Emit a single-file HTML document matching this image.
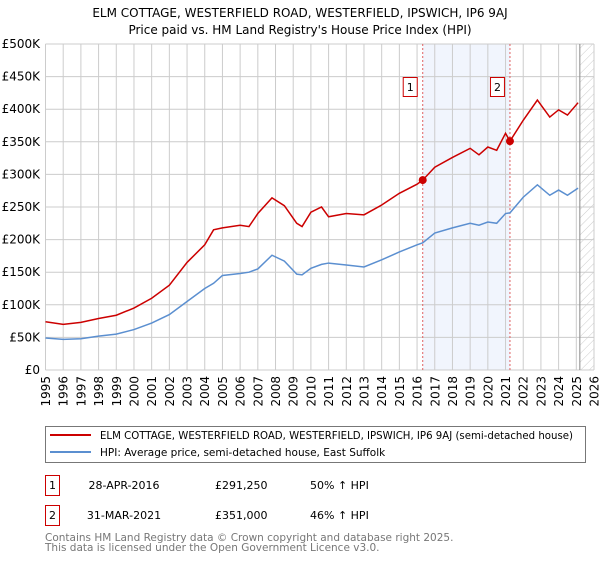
<!DOCTYPE html>
<html><head><meta charset="utf-8"><style>
body{margin:0;background:#fff;font-family:"DejaVu Sans","Liberation Sans",sans-serif;}
svg text{font-family:"DejaVu Sans","Liberation Sans",sans-serif;}
</style></head><body>
<svg id="chart" width="600" height="560" xmlns="http://www.w3.org/2000/svg">
<defs><pattern id="hatch" width="6" height="6" patternUnits="userSpaceOnUse" patternTransform="rotate(45)"><line x1="0" y1="0" x2="0" y2="6" stroke="#ccc" stroke-width="1"/></pattern></defs>
<text x="300" y="17" text-anchor="middle" font-size="12">ELM COTTAGE, WESTERFIELD ROAD, WESTERFIELD, IPSWICH, IP6 9AJ</text>
<text x="300" y="34" text-anchor="middle" font-size="12">Price paid vs. HM Land Registry's House Price Index (HPI)</text>
<g id="grid"></g><g id="marks"></g><g id="axes"></g>
<rect x="45.5" y="426.5" width="540" height="36" fill="#fff" stroke="#777"/>
<line x1="50" y1="435" x2="91" y2="435" stroke="#cc0000" stroke-width="2"/>
<text x="100" y="439" font-size="10.5" textLength="473" lengthAdjust="spacingAndGlyphs">ELM COTTAGE, WESTERFIELD ROAD, WESTERFIELD, IPSWICH, IP6 9AJ (semi-detached house)</text>
<line x1="50" y1="452" x2="91" y2="452" stroke="#5b8fd0" stroke-width="2"/>
<text x="100" y="456" font-size="10.5">HPI: Average price, semi-detached house, East Suffolk</text>
<g font-size="11">
<rect x="45.5" y="475.5" width="14" height="20" fill="#fff" stroke="#cc0000"/>
<text x="52.5" y="489" text-anchor="middle">1</text>
<text x="124" y="489" text-anchor="middle">28-APR-2016</text>
<text x="215" y="489">£291,250</text>
<text x="310" y="489">50% ↑ HPI</text></g>
<g font-size="11">
<rect x="45.5" y="505.5" width="14" height="20" fill="#fff" stroke="#cc0000"/>
<text x="52.5" y="519" text-anchor="middle">2</text>
<text x="124" y="519" text-anchor="middle">31-MAR-2021</text>
<text x="215" y="519">£351,000</text>
<text x="310" y="519">46% ↑ HPI</text></g>
<text x="45" y="541" font-size="10.5" fill="#777">Contains HM Land Registry data © Crown copyright and database right 2025.</text>
<text x="45" y="551" font-size="10.5" fill="#777">This data is licensed under the Open Government Licence v3.0.</text>
</svg>
<script>
const years=[1995,1996,1997,1998,1999,2000,2001,2002,2003,2004,2004.5,2005,2006,2006.5,2007,2007.8,2008.5,2009.2,2009.5,2010,2010.6,2011,2012,2013,2014,2015,2016,2016.32,2017,2018,2019,2019.5,2020,2020.5,2021,2021.25,2022,2022.8,2023.5,2024,2024.5,2025.1];
const priceSeries=[74,70,73,79,84,95,110,130,165,192,215,218,222,220,240,264,252,225,220,242,250,235,240,238,253,271,285,291.25,311,326,340,330,342,337,363,351,383,414,388,399,391,410];
const hpiSeries=[49,47,48,52,55,62,72,85,105,125,133,145,148,150,155,176,167,147,146,156,162,164,161,158,169,181,192,195,210,218,225,222,227,225,240,241,265,284,268,276,268,279];
const yTicks=[0,50,100,150,200,250,300,350,400,450,500];
const yTickLabels=["£0","£50K","£100K","£150K","£200K","£250K","£300K","£350K","£400K","£450K","£500K"];
const xTicks=[1995,1996,1997,1998,1999,2000,2001,2002,2003,2004,2005,2006,2007,2008,2009,2010,2011,2012,2013,2014,2015,2016,2017,2018,2019,2020,2021,2022,2023,2024,2025,2026];
const sales=[{t:2016.32,v:291.25,label:"1"},{t:2021.25,v:351,label:"2"}];
const X0=45.5,X1=594,Y0=370,Y1=44;
const xs=t=>X0+(t-1995)/(2026-1995)*(X1-X0);
const ys=v=>Y0-v/500*(Y0-Y1);
const NS="http://www.w3.org/2000/svg";
function mk(tag,attrs,parent){const e=document.createElementNS(NS,tag);for(const k in attrs)e.setAttribute(k,attrs[k]);parent.appendChild(e);return e;}
const grid=document.getElementById('grid'),marks=document.getElementById('marks'),axes=document.getElementById('axes');
let r=mk('rect',{x:xs(2016.32),y:Y1,width:xs(2021.25)-xs(2016.32),height:Y0-Y1,fill:'#eef3fc',opacity:0.8},grid);


let h=mk('rect',{x:xs(2025.2),y:Y1,width:X1-xs(2025.2),height:Y0-Y1,fill:'url(#hatch)'},grid);


yTicks.forEach((v,i)=>{
 mk('line',{x1:X0,x2:X1,y1:ys(v),y2:ys(v),stroke:'#ccc'},grid);
 const t=mk('text',{x:40,y:ys(v)+4,'text-anchor':'end','font-size':'12'},axes);
 t.textContent=yTickLabels[i];
 
 
});
xTicks.forEach(y=>{
 mk('line',{x1:xs(y),x2:xs(y),y1:Y1,y2:Y0,stroke:'#ccc'},grid);
 const t=mk('text',{x:0,y:0,'text-anchor':'end','font-size':'12',transform:`translate(${xs(y)+4.5},${Y0+6}) rotate(-90)`},axes);
 t.textContent=y;
 
 
});
mk('line',{x1:xs(2025.2),x2:xs(2025.2),y1:Y1,y2:Y0,stroke:'#888'},grid);
sales.forEach(s=>{
 mk('line',{x1:xs(s.t),x2:xs(s.t),y1:Y1,y2:Y0,stroke:'#e06060','stroke-dasharray':'2,2'},grid);
});
const hp=mk('polyline',{points:years.map((t,i)=>xs(t)+','+ys(hpiSeries[i])).join(' '),fill:'none',stroke:'#5b8fd0','stroke-width':1.5},marks);


const pp=mk('polyline',{points:years.map((t,i)=>xs(t)+','+ys(priceSeries[i])).join(' '),fill:'none',stroke:'#cc0000','stroke-width':1.5},marks);


sales.forEach(s=>{
 const c=mk('circle',{cx:xs(s.t),cy:ys(s.v),r:4,fill:'#cc0000'},marks);
 
 
 const b=mk('rect',{x:xs(s.t)-19.5,y:77.5,width:14,height:19,fill:'#fff',stroke:'#cc0000'},marks);
 
 
 const t=mk('text',{x:xs(s.t)-12.5,y:91,'text-anchor':'middle','font-size':'11'},marks);
 t.textContent=s.label;
});
</script>
</body></html>
